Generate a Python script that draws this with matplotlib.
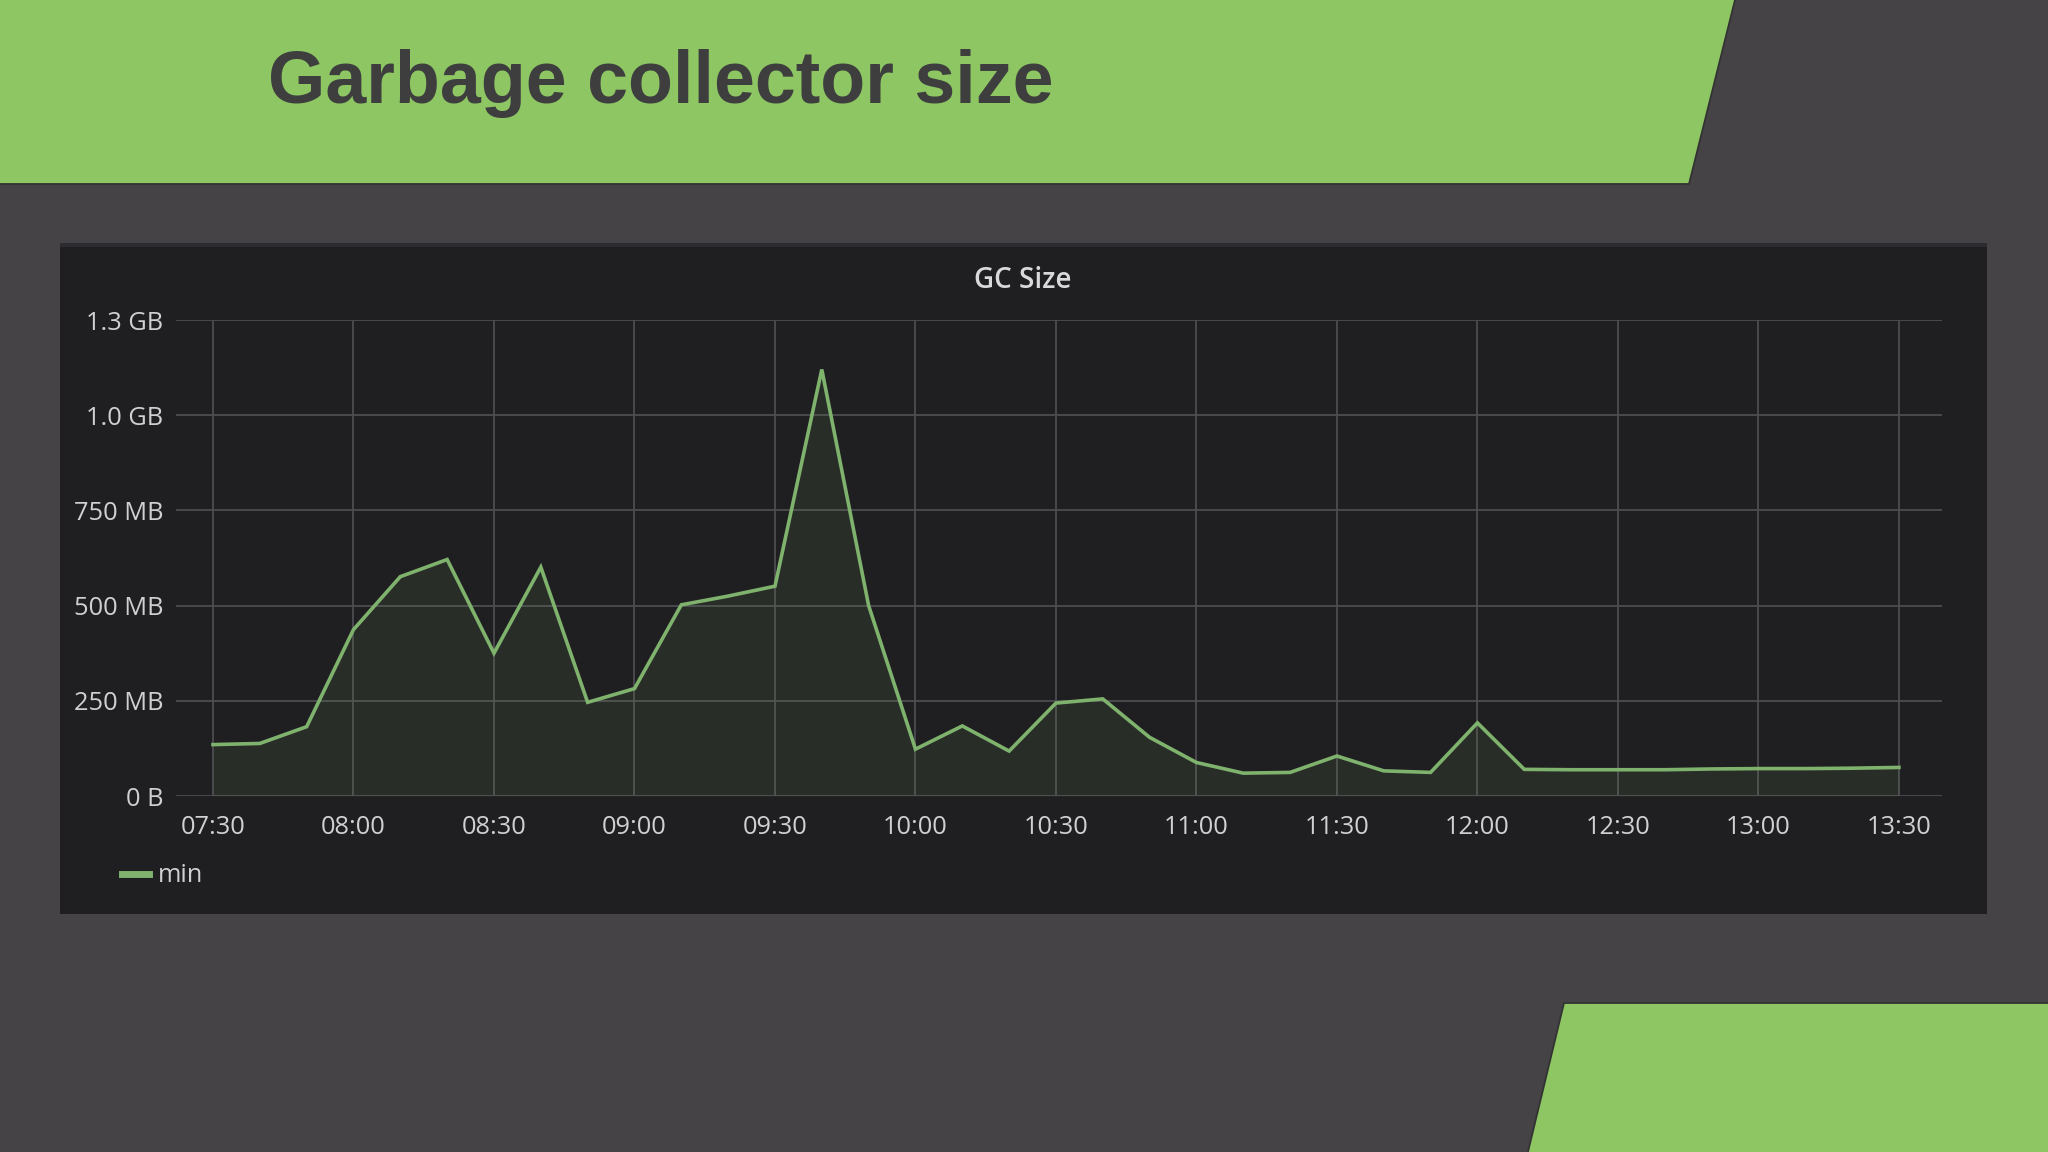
import matplotlib
matplotlib.use("Agg")
import matplotlib.pyplot as plt
from matplotlib.patches import Polygon, Rectangle
from matplotlib.lines import Line2D
import datetime as dt

# ---------------- data ----------------
times = ["07:30", "07:40", "07:50", "08:00", "08:10", "08:20", "08:30", "08:40", "08:50",
         "09:00", "09:10", "09:20", "09:30", "09:40", "09:50", "10:00", "10:10", "10:20",
         "10:30", "10:40", "10:50", "11:00", "11:10", "11:20", "11:30", "11:40", "11:50",
         "12:00", "12:10", "12:20", "12:30", "12:40", "12:50", "13:00", "13:10", "13:20",
         "13:30"]
gc_min_mb = [135, 138, 182, 437, 576, 621, 375, 601, 246,
             282, 502, 525, 551, 1120, 500, 123, 184, 118,
             244, 255, 154, 88, 60, 62, 105, 66, 62,
             192, 70, 69, 69, 69, 71, 72, 72, 73,
             75]
series_name = "min"
y_ticks = [0, 250, 500, 750, 1000, 1250]
y_tick_labels = ["0 B", "250 MB", "500 MB", "750 MB", "1.0 GB", "1.3 GB"]
x_tick_labels = ["07:30", "08:00", "08:30", "09:00", "09:30", "10:00", "10:30",
                 "11:00", "11:30", "12:00", "12:30", "13:00", "13:30"]
slide_title = "Garbage collector size"
panel_title = "GC Size"

# ---------------- style ----------------
BG = "#454346"
GREEN = "#8dc663"
PANEL = "#1f1e21"
LINE = "#7eb26d"
GRID = "#4d4c50"
TXT = "#d0d0d2"
EDGE = "#333333"

W, H = 2048, 1152
fig = plt.figure(figsize=(W / 100, H / 100), dpi=100, facecolor=BG)

bg = fig.add_axes([0, 0, 1, 1], zorder=0)
bg.set_xlim(0, W)
bg.set_ylim(H, 0)
bg.axis("off")
bg.set_facecolor(BG)

# top green banner
bg.add_patch(Polygon([(-5, -5), (1736, -5), (1689, 184), (-5, 184)], closed=True,
                     facecolor=GREEN, edgecolor="none"))
bg.plot([1735, 1689, -5], [0, 184, 184], color=EDGE, linewidth=1.3, solid_joinstyle="miter")
# bottom-right green shape
bg.add_patch(Polygon([(1564, 1003), (2060, 1003), (2060, 1160), (1526, 1160)], closed=True,
                     facecolor=GREEN, edgecolor="none"))
bg.plot([1526, 1564, 2060], [1160, 1003, 1003], color=EDGE, linewidth=1.3, solid_joinstyle="miter")
# panel
bg.add_patch(Rectangle((60, 243), 1927, 671, facecolor=PANEL, edgecolor="none"))
bg.add_patch(Rectangle((60, 243), 1927, 4, facecolor="#2c2b2f", edgecolor="none"))

bg.text(268, 103, slide_title, fontsize=53, fontweight="bold",
        family=["Liberation Sans", "DejaVu Sans"], color="#3e3e3f", va="baseline", ha="left")
bg.text(1023, 281, panel_title, fontsize=20, fontweight="semibold",
        family=["Open Sans", "DejaVu Sans"], color="#d8d9da", va="center", ha="center")

# ---------------- chart ----------------
left, right, top, bottom = 176, 1942, 320, 796
ax = fig.add_axes([left / W, 1 - bottom / H, (right - left) / W, (bottom - top) / H], zorder=2)
ax.set_facecolor("none")

day = dt.date(2020, 1, 1)
def to_dt(s):
    h, m = s.split(":")
    return dt.datetime.combine(day, dt.time(int(h), int(m)))

xs = [to_dt(t) for t in times]
ax.plot(xs, gc_min_mb, color=LINE, linewidth=2.6, zorder=3, solid_joinstyle="miter")
ax.fill_between(xs, gc_min_mb, 0, color=LINE, alpha=0.10, linewidth=0, zorder=2)

ax.set_ylim(0, 1250)
ax.set_xlim(to_dt("07:30") - dt.timedelta(minutes=7.9), to_dt("13:30") + dt.timedelta(minutes=9.2))

ax.set_yticks(y_ticks)
ax.set_yticklabels(y_tick_labels)
xt = [to_dt(t) for t in x_tick_labels]
ax.set_xticks(xt)
ax.set_xticklabels(x_tick_labels)

for s in ax.spines.values():
    s.set_visible(False)
ax.tick_params(axis="both", length=0, labelsize=18.3, labelcolor=TXT)
ax.tick_params(axis="y", pad=9)
ax.tick_params(axis="x", pad=14)
for lbl in ax.get_xticklabels() + ax.get_yticklabels():
    lbl.set_family(["Open Sans", "DejaVu Sans"])

for yv in y_ticks:
    ax.axhline(yv, color=GRID, linewidth=1.3, zorder=1)
for xv in xt:
    ax.plot([xv, xv], [0, 1250], color=GRID, linewidth=1.3, zorder=1)

leg = ax.legend(handles=[Line2D([], [], color=LINE, linewidth=5)], labels=[series_name],
                loc="center left", bbox_to_anchor=(122 / W, 1 - 876 / H),
                bbox_transform=fig.transFigure, frameon=False, fontsize=18.3,
                handlelength=1.05, handletextpad=0.35, borderpad=0, borderaxespad=0)
for t in leg.get_texts():
    t.set_color(TXT)
    t.set_family(["Open Sans", "DejaVu Sans"])

fig.savefig("out.png", dpi=100, facecolor=BG)
